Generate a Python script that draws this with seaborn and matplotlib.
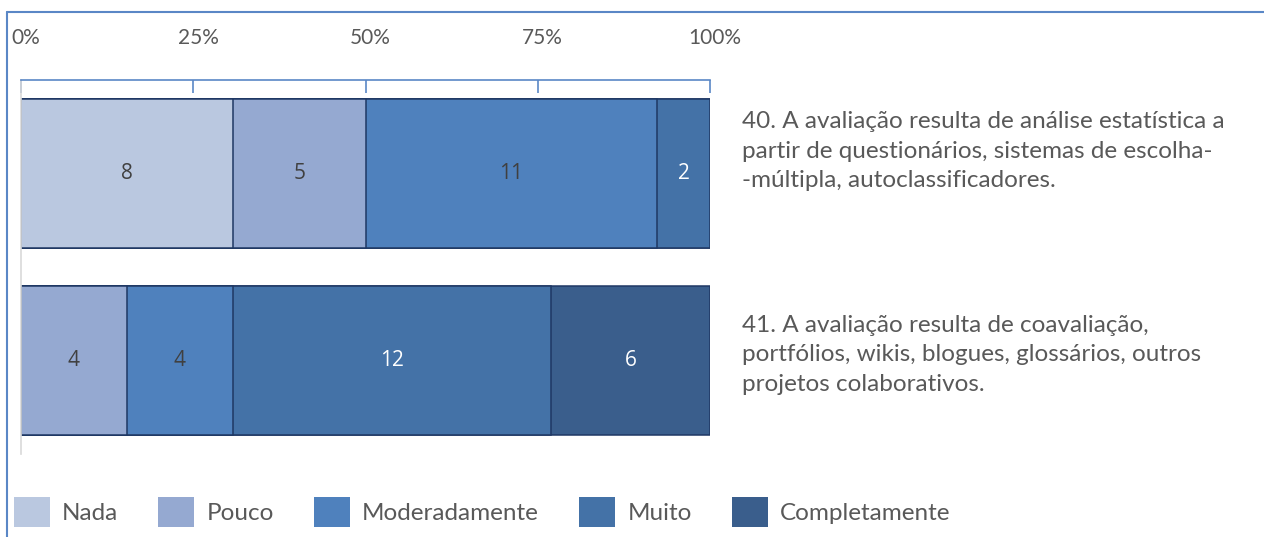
import pandas as pd
import matplotlib.pyplot as plt
import seaborn as sns
from matplotlib.lines import Line2D
from matplotlib.patches import Patch
from matplotlib.transforms import blended_transform_factory, ScaledTranslation

# dados
questoes = ['40', '41']
textos = [
    '40. A avaliação resulta de análise estatística a\npartir de questionários, sistemas de escolha-\n-múltipla, autoclassificadores.',
    '41. A avaliação resulta de coavaliação,\nportfólios, wikis, blogues, glossários, outros\nprojetos colaborativos.',
]
niveis = ['Nada', 'Pouco', 'Moderadamente', 'Muito', 'Completamente']
nada = [8, 0]
pouco = [5, 4]
moderadamente = [11, 4]
muito = [2, 12]
completamente = [0, 6]

cores = ['#BAC8E0', '#95A9D1', '#4F81BD', '#4472A7', '#3A5E8C']
cor_valor = ['#404040', '#404040', '#404040', 'white', 'white']
cinza = '#595959'
azul = '#5A87C6'

df = pd.DataFrame({'questao': questoes, 'Nada': nada, 'Pouco': pouco,
                   'Moderadamente': moderadamente, 'Muito': muito,
                   'Completamente': completamente}).set_index('questao')
pct = df.div(df.sum(axis=1), axis=0) * 100
acum = pct.cumsum(axis=1)

sns.set_style('white')
plt.rcParams['font.family'] = ['Lato', 'DejaVu Sans']

fig = plt.figure(figsize=(12.64, 5.37), dpi=100)
ax = fig.add_axes([21 / 1264, 83 / 537, 689 / 1264, 374 / 537])

# barras empilhadas: desenha do acumulado maior para o menor
for nivel, cor in reversed(list(zip(niveis, cores))):
    d = acum[nivel].reset_index()
    sns.barplot(data=d, x=nivel, y='questao', order=questoes, orient='h',
                color=cor, width=0.8, edgecolor='#1F3864', linewidth=1.1,
                saturation=1, ax=ax)

for i, q in enumerate(questoes):
    for nivel, cv in zip(niveis, cor_valor):
        v = df.loc[q, nivel]
        if v == 0:
            continue
        centro = acum.loc[q, nivel] - pct.loc[q, nivel] / 2
        ax.text(centro, i, str(v), ha='center', va='center', fontsize=15,
                color=cv, family=['Open Sans', 'DejaVu Sans'])

# textos das questões à direita
trans = blended_transform_factory(ax.transAxes, ax.transData)
desloc = [-0.12, -0.03]
for i, t in enumerate(textos):
    ax.text(1.046, i + desloc[i], t, transform=trans, ha='left', va='center',
            fontsize=17.5, color=cinza, linespacing=1.5)

ax.set_xlim(0, 100)
ax.set_ylim(1.5, -0.5)
ax.set_xticks([0, 25, 50, 75, 100])
ax.set_xticklabels(['0%', '25%', '50%', '75%', '100%'])
ax.xaxis.tick_top()
ax.tick_params(axis='x', direction='in', length=9, width=1.2, color=azul,
               pad=23, labelsize=15, labelcolor=cinza)
for lbl in ax.get_xticklabels():
    lbl.set_transform(lbl.get_transform() + ScaledTranslation(0.05, 0, fig.dpi_scale_trans))
ax.set_yticks([])
ax.set_xlabel('')
ax.set_ylabel('')
for s in ['right', 'bottom']:
    ax.spines[s].set_visible(False)
ax.spines['top'].set_color(azul)
ax.spines['top'].set_linewidth(1.2)
ax.spines['left'].set_color('#D9D9D9')
ax.spines['left'].set_linewidth(1.2)

# legenda
handles = [Patch(facecolor=c, edgecolor='none', label=n) for n, c in zip(niveis, cores)]
fig.legend(handles=handles, loc='center left', bbox_to_anchor=(14 / 1264, 1 - 512 / 537),
           ncol=5, frameon=False, fontsize=17.5, labelcolor=cinza,
           handlelength=1.48, handleheight=1.48, handletextpad=0.5,
           columnspacing=1.65, borderaxespad=0, borderpad=0)

# moldura
fig.add_artist(Line2D([7 / 1264, 1], [1 - 12 / 537] * 2, transform=fig.transFigure,
                      color=azul, lw=1.5))
fig.add_artist(Line2D([7 / 1264] * 2, [0, 1 - 12 / 537], transform=fig.transFigure,
                      color=azul, lw=1.5))

plt.savefig('out.png', dpi=100)
